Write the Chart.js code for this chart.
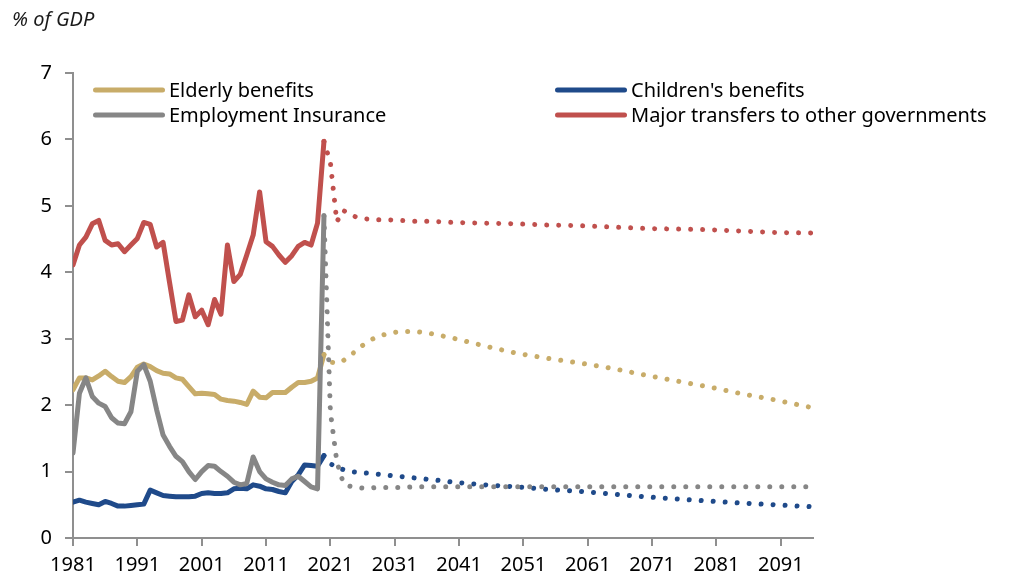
<!DOCTYPE html>
<html>
<head>
<meta charset="utf-8">
<script src="https://cdn.jsdelivr.net/npm/chart.js@4.4.1/dist/chart.umd.min.js"></script>
<style>
  html, body { margin: 0; padding: 0; background: #fff; }
  #wrap { width: 1013px; height: 581px; position: relative; }
</style>
</head>
<body>
<div id="wrap"><canvas id="myChart"></canvas></div>
<script>
// historical, fiscal years
const histYears = [1981, 1982, 1983, 1984, 1985, 1986, 1987, 1988, 1989, 1990,
  1991, 1992, 1993, 1994, 1995, 1996, 1997, 1998, 1999, 2000,
  2001, 2002, 2003, 2004, 2005, 2006, 2007, 2008, 2009, 2010,
  2011, 2012, 2013, 2014, 2015, 2016, 2017, 2018, 2019, 2020];

const elderlyHist = [2.23, 2.41, 2.41, 2.38, 2.44, 2.51, 2.43, 2.36, 2.34, 2.43,
  2.57, 2.62, 2.58, 2.52, 2.48, 2.47, 2.41, 2.39, 2.28, 2.17,
  2.18, 2.17, 2.16, 2.09, 2.07, 2.06, 2.04, 2.01, 2.21, 2.12,
  2.11, 2.19, 2.19, 2.19, 2.27, 2.34, 2.34, 2.36, 2.41, 2.76];

const childrenHist = [0.54, 0.57, 0.54, 0.52, 0.50, 0.55, 0.52, 0.48, 0.48, 0.49,
  0.50, 0.51, 0.72, 0.68, 0.64, 0.63, 0.62, 0.62, 0.62, 0.63,
  0.67, 0.68, 0.67, 0.67, 0.68, 0.74, 0.75, 0.74, 0.80, 0.78,
  0.74, 0.73, 0.70, 0.68, 0.85, 0.95, 1.10, 1.09, 1.08, 1.24];

const eiHist = [1.28, 2.18, 2.41, 2.13, 2.03, 1.98, 1.81, 1.73, 1.72, 1.90,
  2.51, 2.61, 2.36, 1.93, 1.55, 1.38, 1.23, 1.15, 1.00, 0.88,
  1.00, 1.09, 1.08, 1.00, 0.93, 0.84, 0.80, 0.82, 1.22, 1.00,
  0.89, 0.84, 0.80, 0.79, 0.89, 0.93, 0.85, 0.77, 0.74, 4.85];

const transfersHist = [4.11, 4.41, 4.53, 4.73, 4.78, 4.48, 4.41, 4.43, 4.31, 4.41,
  4.51, 4.75, 4.72, 4.38, 4.45, 3.85, 3.26, 3.28, 3.66, 3.33,
  3.43, 3.21, 3.59, 3.37, 4.41, 3.86, 3.97, 4.26, 4.56, 5.21,
  4.46, 4.39, 4.26, 4.15, 4.25, 4.39, 4.45, 4.41, 4.74, 5.97];

// projections (dotted)
const projYears = [2020, 2021, 2022, 2023, 2024, 2025, 2026, 2027, 2028, 2030,
  2032, 2034, 2036, 2038, 2040, 2045, 2050, 2055, 2060, 2065,
  2070, 2075, 2080, 2085, 2090, 2096];

const elderlyProj = [2.76, 2.65, 2.63, 2.67, 2.74, 2.82, 2.90, 2.96, 3.02, 3.08,
  3.11, 3.11, 3.09, 3.05, 3.01, 2.89, 2.78, 2.70, 2.63, 2.55,
  2.45, 2.36, 2.27, 2.17, 2.08, 1.96];

const childrenProj = [1.24, 1.12, 1.06, 1.03, 1.00, 0.99, 0.98, 0.975, 0.965, 0.945,
  0.925, 0.905, 0.885, 0.865, 0.84, 0.80, 0.77, 0.73, 0.70, 0.66,
  0.62, 0.585, 0.555, 0.525, 0.50, 0.47];

const eiProj = [4.85, 1.90, 1.15, 0.83, 0.78, 0.76, 0.75, 0.75, 0.76, 0.76,
  0.76, 0.77, 0.77, 0.77, 0.77, 0.77, 0.77, 0.77, 0.77, 0.77,
  0.77, 0.77, 0.77, 0.77, 0.77, 0.77];

const transfersProj = [5.97, 5.65, 4.76, 4.93, 4.88, 4.83, 4.81, 4.80, 4.79, 4.79,
  4.78, 4.77, 4.77, 4.76, 4.75, 4.74, 4.73, 4.71, 4.70, 4.68,
  4.66, 4.65, 4.64, 4.62, 4.60, 4.59];

const tickYears = [1981, 1991, 2001, 2011, 2021, 2031, 2041, 2051, 2061, 2071, 2081, 2091];

const GOLD = '#C8AC69';
const BLUE = '#1F4A8A';
const GREY = '#868686';
const RED = '#C0504D';

const pts = (xs, ys) => xs.map((x, i) => ({ x: x, y: ys[i] }));

function solid(label, color, xs, ys, order) {
  return { label, data: pts(xs, ys), borderColor: color, backgroundColor: color,
    borderWidth: 5, pointRadius: 0, tension: 0, order,
    borderCapStyle: 'round', borderJoinStyle: 'round' };
}
function dotted(label, color, xs, ys, order) {
  return { label, projection: true, data: pts(xs, ys), borderColor: color, backgroundColor: color,
    borderWidth: 5, pointRadius: 0, tension: 0, order,
    borderDash: [0.001, 12], borderCapStyle: 'round', borderJoinStyle: 'round' };
}

// legend drawn inside the plot, two columns
const legendBox = {
  id: 'legendBox',
  afterDraw(chart) {
    const { ctx, chartArea } = chart;
    const items = chart.data.datasets.filter(d => !d.projection);
    ctx.save();
    ctx.font = '20px "Noto Sans", "Open Sans", sans-serif';
    ctx.textBaseline = 'middle';
    ctx.fillStyle = '#000';
    items.forEach((d, i) => {
      const x = chartArea.left + (i % 2 ? 482 : 20);
      const y = chartArea.top + 17 + Math.floor(i / 2) * 25;
      ctx.strokeStyle = d.borderColor;
      ctx.lineWidth = 5;
      ctx.lineCap = 'round';
      ctx.beginPath();
      ctx.moveTo(x + 2.5, y);
      ctx.lineTo(x + 69.5, y);
      ctx.stroke();
      ctx.fillText(d.label, x + 76, y + 1);
    });
    ctx.restore();
  }
};

Chart.defaults.font.family = '"Noto Sans", "Open Sans", sans-serif';
Chart.defaults.font.size = 20;
Chart.defaults.color = '#000';

const ctx = document.getElementById('myChart');

new Chart(ctx, {
  type: 'line',
  data: {
    datasets: [
      solid('Elderly benefits', GOLD, histYears, elderlyHist, 8),
      solid("Children's benefits", BLUE, histYears, childrenHist, 7),
      solid('Employment Insurance', GREY, histYears, eiHist, 6),
      solid('Major transfers to other governments', RED, histYears, transfersHist, 5),
      dotted('Elderly benefits', GOLD, projYears, elderlyProj, 4),
      dotted("Children's benefits", BLUE, projYears, childrenProj, 3),
      dotted('Employment Insurance', GREY, projYears, eiProj, 2),
      dotted('Major transfers to other governments', RED, projYears, transfersProj, 1)
    ]
  },
  options: {
    responsive: true,
    maintainAspectRatio: false,
    animation: false,
    layout: { padding: { left: 12, right: 200, top: 0, bottom: 0 } },
    plugins: {
      legend: { display: false },
      tooltip: { enabled: false },
      title: {
        display: true,
        text: '% of GDP',
        align: 'start',
        color: '#1a1a1a',
        font: { size: 20, style: 'italic', weight: 'normal' },
        padding: { top: 8, bottom: 41 }
      }
    },
    scales: {
      x: {
        type: 'linear',
        min: 1981,
        max: 2096,
        afterBuildTicks: (scale) => { scale.ticks = tickYears.map(v => ({ value: v })); },
        afterFit: (scale) => { scale.height = 43; },
        ticks: { callback: (v) => String(v), padding: 7, maxRotation: 0, autoSkip: false },
        grid: { drawOnChartArea: false, drawTicks: true, tickLength: 8, color: '#8f8f8f', lineWidth: 2 },
        border: { color: '#8f8f8f', width: 2 }
      },
      y: {
        min: 0,
        max: 7,
        afterFit: (scale) => { scale.width = 61; },
        ticks: { stepSize: 1, padding: 13 },
        grid: { drawOnChartArea: false, drawTicks: true, tickLength: 8, color: '#8f8f8f', lineWidth: 2 },
        border: { color: '#8f8f8f', width: 2 }
      }
    }
  },
  plugins: [legendBox]
});
</script>
</body>
</html>
